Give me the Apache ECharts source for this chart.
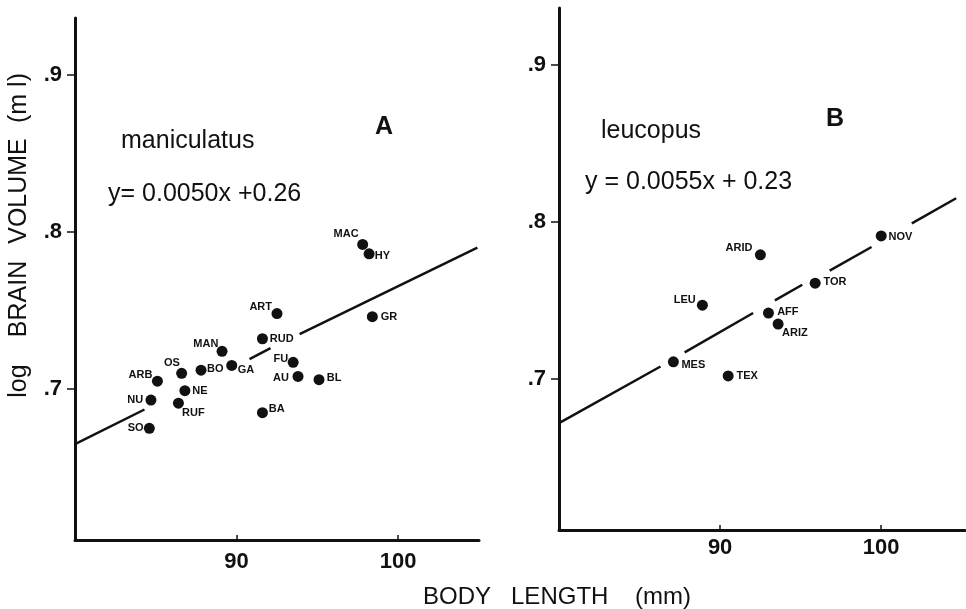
<!DOCTYPE html>
<html><head><meta charset="utf-8">
<script src="https://cdn.jsdelivr.net/npm/echarts@6/dist/echarts.min.js"></script>
<style>html,body{margin:0;padding:0;background:#fff}#c{width:966px;height:609px}</style>
</head><body><div id="c"></div>
<script>
// ---- data ----
const namesA  = ['MAC','HY','ART','GR','RUD','MAN','FU','GA','BO','OS','AU','BL','ARB','NE','NU','RUF','BA','SO'];
const lengthA = [97.8, 98.2, 92.5, 98.4, 91.6, 89.1, 93.5, 89.7, 87.8, 86.6, 93.8, 95.1, 85.1, 86.8, 84.7, 86.4, 91.6, 84.6];
const brainA  = [0.792,0.786,0.748,0.746,0.732,0.724,0.717,0.715,0.712,0.710,0.708,0.706,0.705,0.699,0.693,0.691,0.685,0.675];

const namesB  = ['NOV','ARID','TOR','LEU','AFF','ARIZ','MES','TEX'];
const lengthB = [100.0, 92.5, 95.9, 88.9, 93.0, 93.6, 87.1, 90.5];
const brainB  = [0.791,0.779,0.761,0.747,0.742,0.735,0.711,0.702];

// fitted regression lines, drawn broken where they pass labels
const fitSegmentsA = [
  [[80,0.665],[84.3,0.687]],
  [[90.8,0.719],[92.1,0.726]],
  [[93.9,0.735],[104.9,0.790]]
];
const fitSegmentsB = [
  [[80,0.672],[86.3,0.708]],
  [[87.8,0.717],[92.05,0.742]],
  [[93.4,0.750],[95.1,0.760]],
  [[96.8,0.769],[99.4,0.784]],
  [[101.9,0.799],[104.65,0.815]]
];

const yTicks = [0.7, 0.8, 0.9];
const yTickLabels = ['.7', '.8', '.9'];
const xTicks = [90, 100];
const xTickLabels = ['90', '100'];

const speciesA = 'maniculatus', equationA = 'y= 0.0050x +0.26', panelA = 'A';
const speciesB = 'leucopus',    equationB = 'y = 0.0055x + 0.23', panelB = 'B';
const xTitle = 'BODY   LENGTH    (mm)';
const yTitleWords = ['log', 'BRAIN', 'VOLUME', '(m l)'];

// ---- label placement (style only) ----
const labelPlace = {
  MAC:['l',-4,-10], HY:['r',5.7,1.7], ART:['l',-5,-6.6], GR:['r',8.3,0], RUD:['r',7.3,0],
  MAN:['l',-3.7,-7.7], FU:['l',-5,-3], GA:['r',6,4], BO:['r',6,-1], OS:['l',-1.7,-10],
  AU:['l',-9,1.6], BL:['r',7.7,-2], ARB:['l',-5,-6.7], NE:['r',7.3,0], NU:['l',-7.7,0],
  RUF:['r',3.7,9.3], BA:['r',6.3,-3.7], SO:['l',-5.7,0],
  NOV:['r',7.3,0.7], ARID:['l',-8,-6.7], TOR:['r',8.3,-1.3], LEU:['l',-6.6,-5.4],
  AFF:['r',8.7,-0.6], ARIZ:['r',4,9], MES:['r',8,3.4], TEX:['r',8.4,0]
};
// vertical centres of the rotated y-title words (style only)
const yTitleCentres = [381, 299, 191, 98];

const INK = '#111';
const FONT = '"Liberation Sans", Arial, Helvetica, sans-serif';

function points(names, xs, ys) {
  return names.map((n, i) => {
    const p = labelPlace[n];
    return {
      name: n,
      value: [xs[i], ys[i]],
      label: {
        show: true, position: 'inside', formatter: n,
        align: p[0] === 'l' ? 'right' : 'left', verticalAlign: 'middle',
        offset: [p[1], p[2]],
        color: INK, fontFamily: FONT, fontWeight: 'bold', fontSize: 11
      }
    };
  });
}

function yAxisFor(gi) {
  return {
    type: 'value', gridIndex: gi, min: 0.604, max: 0.936,
    axisLine: { show: true, lineStyle: { color: INK, width: 3 } },
    axisTick: { show: true, customValues: yTicks, length: 8, inside: false, lineStyle: { color: INK, width: 1.5 } },
    axisLabel: { customValues: yTicks, margin: 13, color: INK, fontFamily: FONT, fontWeight: 'bold', fontSize: 22,
      formatter: v => { const k = yTicks.findIndex(t => Math.abs(t - v) < 1e-6); return k >= 0 ? yTickLabels[k] : ''; } },
    splitLine: { show: false }
  };
}
function xAxisFor(gi, max, margin) {
  return {
    type: 'value', gridIndex: gi, min: 80, max: max,
    axisLine: { show: true, onZero: false, lineStyle: { color: INK, width: 3 } },
    axisTick: { show: true, customValues: xTicks, length: 5, inside: true, lineStyle: { color: INK, width: 1.5 } },
    axisLabel: { customValues: xTicks, margin: margin, color: INK, fontFamily: FONT, fontWeight: 'bold', fontSize: 22,
      formatter: v => { const k = xTicks.findIndex(t => Math.abs(t - v) < 1e-6); return k >= 0 ? xTickLabels[k] : ''; } },
    splitLine: { show: false }
  };
}

const series = [];
function addPanel(gi, names, xs, ys, segs) {
  segs.forEach(seg => series.push({
    type: 'line', xAxisIndex: gi, yAxisIndex: gi, data: seg, symbol: 'none', silent: true,
    lineStyle: { color: INK, width: 2.5 }, z: 1
  }));
  series.push({
    type: 'scatter', xAxisIndex: gi, yAxisIndex: gi, symbol: 'circle', symbolSize: 11,
    itemStyle: { color: INK, opacity: 1 }, data: points(names, xs, ys), z: 3
  });
}
addPanel(0, namesA, lengthA, brainA, fitSegmentsA);
addPanel(1, namesB, lengthB, brainB, fitSegmentsB);

const txt = (text, left, top, size, weight) => ({
  type: 'text', left: left, top: top,
  style: { text: text, fill: INK, font: (weight || 'normal') + ' ' + size + 'px ' + FONT }
});

const graphic = [
  txt(speciesA, 121, 129, 25),
  txt(equationA, 108, 182, 25),
  txt(panelA, 375, 115, 25, 'bold'),
  txt(speciesB, 601, 119, 25),
  txt(equationB, 585, 170, 25),
  txt(panelB, 826, 107, 25, 'bold'),
  txt(xTitle, 423, 585, 24)
];
yTitleWords.forEach((w, i) => graphic.push({
  type: 'text', x: 19, y: yTitleCentres[i], rotation: Math.PI / 2,
  style: { text: w, fill: INK, font: 'normal 25px ' + FONT, align: 'center', verticalAlign: 'middle' }
}));

const option = {
  backgroundColor: '#fff',
  animation: false,
  grid: [
    { left: 75, top: 18, width: 404, height: 522 },
    { left: 559, top: 8, width: 406, height: 522 }
  ],
  xAxis: [xAxisFor(0, 105, 11), xAxisFor(1, 105.2, 7)],
  yAxis: [yAxisFor(0), yAxisFor(1)],
  series: series,
  graphic: graphic
};
echarts.init(document.getElementById('c')).setOption(option);
</script>
</body></html>
